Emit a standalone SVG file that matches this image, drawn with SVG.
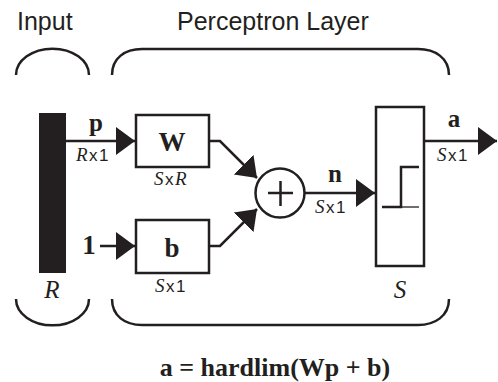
<svg xmlns="http://www.w3.org/2000/svg" width="498" height="382" viewBox="0 0 498 382">
<style>
.title{font-family:"Liberation Sans",Arial,sans-serif;font-size:25px;fill:#231f20}
.bold{font-family:"Liberation Serif","Times New Roman",serif;font-weight:bold;fill:#231f20}
.it{font-family:"Liberation Serif","Times New Roman",serif;font-style:italic;fill:#231f20}
.dim{font-family:"Liberation Sans",Arial,sans-serif;font-size:17px;letter-spacing:1.5px;fill:#231f20}
.box{fill:#fff;stroke:#231f20;stroke-width:2.5}
.line{fill:none;stroke:#231f20;stroke-width:2.5}
.br{fill:none;stroke:#231f20;stroke-width:2.5}
</style>
<defs>
<marker id="ah" markerUnits="userSpaceOnUse" markerWidth="20" markerHeight="30" viewBox="-19 -14 20 28" refX="0" refY="0" orient="auto">
<path d="M-19,-14 L0,0 L-19,14 Z" fill="#231f20"/>
</marker>
</defs>
<g id="labels-top">
<text class="title" x="17" y="30">Input</text>
<text class="title" x="177" y="30">Perceptron Layer</text>
</g>
<g id="brackets">
<path class="br" d="M16,75 A36,26 0 0 1 89,75"/>
<path class="br" d="M112,75 C112,58 125,49 142,49 L418,49 C435,49 449,58 449,75"/>
<path class="br" d="M16,299 A36,26 0 0 0 89,299"/>
<path class="br" d="M112,299 C112,316 125,325 142,325 L418,325 C435,325 449,316 449,299"/>
</g>
<g id="connectors">
<path class="line" d="M66,141 L135,141" marker-end="url(#ah)"/>
<path class="line" d="M100,246 L135,246" marker-end="url(#ah)"/>
<path class="line" d="M209,141 L220,141 L257,178" marker-end="url(#ah)"/>
<path class="line" d="M209,246 L220,246 L257,209" marker-end="url(#ah)"/>
<path class="line" d="M305,193 L375,193" marker-end="url(#ah)"/>
<path class="line" d="M424,141 L497,141" marker-end="url(#ah)"/>
</g>
<g id="input">
<rect x="39" y="113" width="27" height="160" fill="#231f20"/>
<text class="it" x="52" y="298" font-size="25" text-anchor="middle">R</text>
<text class="bold" x="96" y="131" font-size="25" text-anchor="middle">p</text>
<text class="dim" x="76" y="161"><tspan class="it" font-size="19">R</tspan>x1</text>
<text class="bold" x="89" y="254" font-size="27" text-anchor="middle">1</text>
</g>
<g id="W">
<rect class="box" x="136" y="115" width="73" height="52"/>
<text class="bold" x="172" y="151" font-size="27" text-anchor="middle">W</text>
<text class="dim" x="154" y="185"><tspan class="it" font-size="19">S</tspan>x<tspan class="it" font-size="19">R</tspan></text>
</g>
<g id="b">
<rect class="box" x="136" y="220" width="73" height="53"/>
<text class="bold" x="172" y="257" font-size="27" text-anchor="middle">b</text>
<text class="dim" x="155" y="292"><tspan class="it" font-size="19">S</tspan>x1</text>
</g>
<g id="sum">
<circle cx="280" cy="193" r="24.5" fill="#fff" stroke="#231f20" stroke-width="2.5"/>
<path d="M268,193 L293,193 M280.5,181 L280.5,206" stroke="#231f20" stroke-width="2.5" fill="none"/>
<text class="bold" x="335" y="182" font-size="25" text-anchor="middle">n</text>
<text class="dim" x="315" y="213"><tspan class="it" font-size="19">S</tspan>x1</text>
</g>
<g id="hardlim">
<rect class="box" x="376" y="107" width="48" height="159"/>
<path d="M382,207 L401,207 L401,167 L419,167" stroke="#231f20" stroke-width="2.5" fill="none"/>
<path d="M401,207 L419,207" stroke="#231f20" stroke-width="1.3" fill="none"/>
<text class="it" x="400" y="298" font-size="25" text-anchor="middle">S</text>
<text class="bold" x="454" y="127" font-size="25" text-anchor="middle">a</text>
<text class="dim" x="437" y="161"><tspan class="it" font-size="19">S</tspan>x1</text>
</g>
<g id="equation">
<text class="bold" x="275" y="376" font-size="26" text-anchor="middle">a = hardlim(Wp + b)</text>
</g>
</svg>
